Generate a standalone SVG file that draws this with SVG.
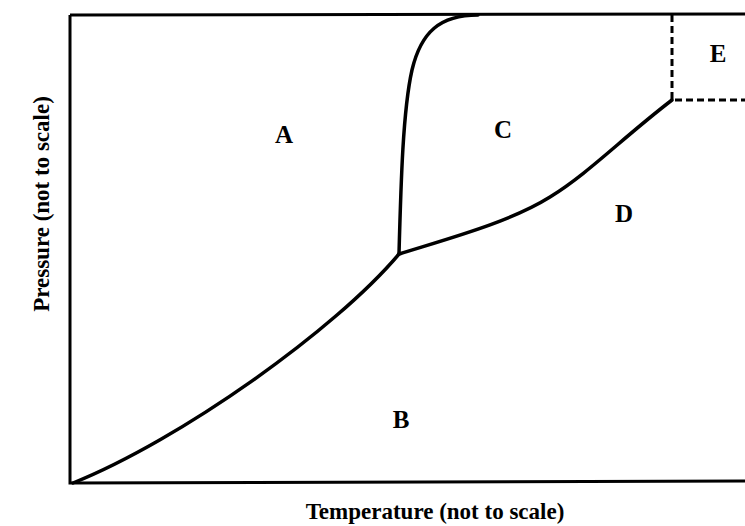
<svg xmlns="http://www.w3.org/2000/svg" width="745" height="526" viewBox="0 0 745 526">
<style>
.frame{fill:none;stroke:#000;stroke-width:3}
.curve{fill:none;stroke:#000;stroke-width:3.5;stroke-linecap:round;stroke-linejoin:round}
.dash{fill:none;stroke:#000;stroke-width:3;stroke-dasharray:7 4}
.lbl{font-family:"Liberation Serif","Times New Roman",serif;font-weight:bold;font-size:25px;text-anchor:middle;fill:#000}
.axis{font-family:"Liberation Serif","Times New Roman",serif;font-weight:bold;font-size:23px;text-anchor:middle;fill:#000}
</style>
<rect width="745" height="526" fill="#fff"/>
<g id="axes">
<path class="frame" d="M70,15 L70,483 L745,481"/>
<path class="frame" d="M70,15 L745,14"/>
</g>
<g id="connectors">
<path class="curve" d="M73,483 C180,440 335,330 399,254"/>
<path class="curve" d="M399,254 C401,180 403,110 412,70 C421,32 440,15 478,15"/>
<path class="curve" d="M399,254 C450,238 510,222 550,197 C590,172 620,140 672,100"/>
<path class="dash" d="M672,15 L672,100 L745,100"/>
</g>
<g id="node-A"><text class="lbl" x="284" y="143">A</text></g>
<g id="node-B"><text class="lbl" x="401" y="428">B</text></g>
<g id="node-C"><text class="lbl" x="503" y="138">C</text></g>
<g id="node-D"><text class="lbl" x="624" y="222">D</text></g>
<g id="node-E"><text class="lbl" x="718" y="62">E</text></g>
<text class="axis" x="435" y="519">Temperature (not to scale)</text>
<text class="axis" transform="translate(49,204) rotate(-90)" x="0" y="0">Pressure (not to scale)</text>
</svg>
